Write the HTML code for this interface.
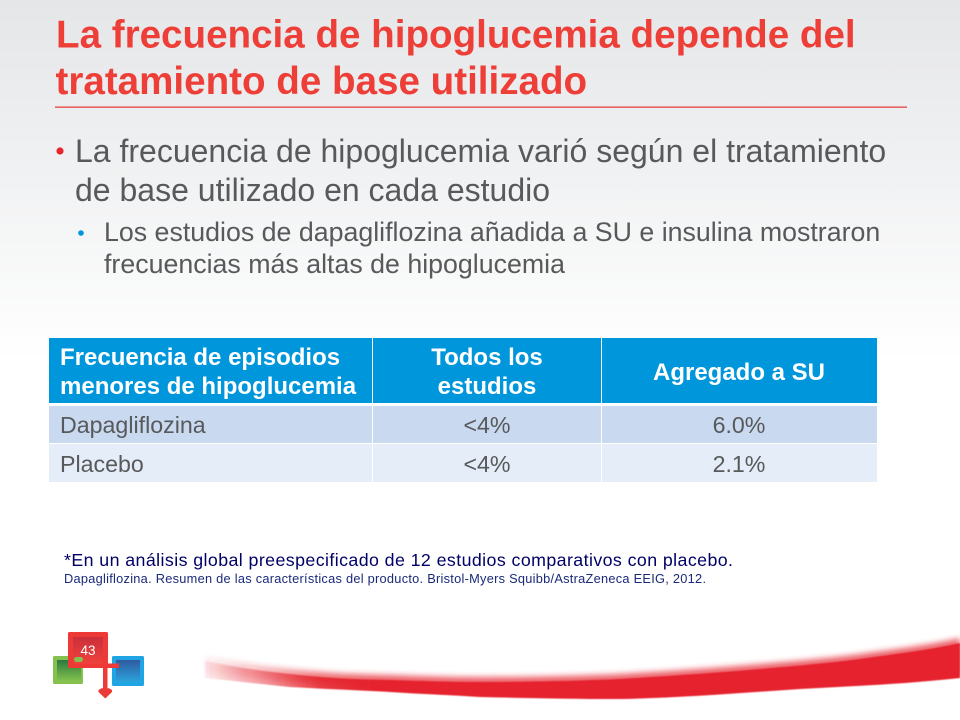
<!DOCTYPE html>
<html lang="es">
<head>
<meta charset="utf-8">
<title>La frecuencia de hipoglucemia</title>
<style>
html,body{margin:0;padding:0;background:#fff}
svg{display:block}
text{font-family:"Liberation Sans",Arial,sans-serif}
.t{font-weight:bold;font-size:38.6px;fill:#ee3e38}
.b1{font-size:32px;fill:#58595b}
.b2{font-size:26.75px;fill:#58595b}
.h{font-weight:bold;font-size:24px;fill:#fff}
.c{font-size:23.2px;fill:#58595b}
</style>
</head>
<body>
<svg xmlns="http://www.w3.org/2000/svg" width="960" height="720" viewBox="0 0 960 720">
<defs>
<linearGradient id="bg" x1="0" y1="0" x2="0" y2="1"><stop offset="0" stop-color="#e5e6e8"/><stop offset="0.25" stop-color="#f1f2f3"/><stop offset="0.5" stop-color="#ffffff"/></linearGradient>
<linearGradient id="fade" gradientUnits="userSpaceOnUse" x1="205" y1="0" x2="960" y2="0"><stop offset="0" stop-color="#e5242d" stop-opacity="0.08"/><stop offset="0.09" stop-color="#e5242d" stop-opacity="0.5"/><stop offset="0.15" stop-color="#e5242d" stop-opacity="0.88"/><stop offset="0.22" stop-color="#e5242d"/><stop offset="1" stop-color="#e5242d"/></linearGradient>
<linearGradient id="rg" x1="0" y1="0" x2="0" y2="1"><stop offset="0" stop-color="#c9303a"/><stop offset="1" stop-color="#f0413c"/></linearGradient>
<linearGradient id="gg" x1="0" y1="0" x2="0" y2="1"><stop offset="0" stop-color="#2a7a3f"/><stop offset="1" stop-color="#7fbf4d"/></linearGradient>
<linearGradient id="bb" x1="0" y1="0" x2="0" y2="1"><stop offset="0" stop-color="#2f5ba0"/><stop offset="1" stop-color="#2ba4dc"/></linearGradient>
<filter id="blur3" x="-5%" y="-50%" width="110%" height="200%"><feGaussianBlur stdDeviation="3"/></filter>
<filter id="blur1" x="-5%" y="-50%" width="110%" height="200%"><feGaussianBlur stdDeviation="0.6"/></filter>
</defs>
<rect width="960" height="720" fill="url(#bg)"/>

<text class="t" x="56" y="47.5">La frecuencia de hipoglucemia depende del</text>
<text class="t" x="55.5" y="94">tratamiento de base utilizado</text>
<rect x="55" y="106.5" width="852" height="1.3" fill="#e8403f"/>

<circle cx="60" cy="151" r="3.6" fill="#e8242c"/>
<text class="b1" x="75" y="162">La frecuencia de hipoglucemia varió según el tratamiento</text>
<text class="b1" x="75" y="201">de base utilizado en cada estudio</text>
<circle cx="81" cy="233" r="2.8" fill="#0096db"/>
<text class="b2" x="104" y="241">Los estudios de dapagliflozina añadida a SU e insulina mostraron</text>
<text class="b2" x="104" y="273">frecuencias más altas de hipoglucemia</text>

<g>
<rect x="49" y="338" width="828" height="65" fill="#0096db"/>
<rect x="49" y="406" width="828" height="37" fill="#c8d9f0"/>
<rect x="49" y="444" width="828" height="38" fill="#e5edf8"/>
<rect x="372" y="338" width="1" height="144" fill="#fff"/>
<rect x="601" y="338" width="1" height="144" fill="#fff"/>
<text class="h" x="60" y="365">Frecuencia de episodios</text>
<text class="h" x="60" y="394">menores de hipoglucemia</text>
<text class="h" x="487" y="365" text-anchor="middle">Todos los</text>
<text class="h" x="487" y="394" text-anchor="middle">estudios</text>
<text class="h" x="739" y="380" text-anchor="middle">Agregado a SU</text>
<text class="c" x="60" y="433">Dapagliflozina</text>
<text class="c" x="487" y="433" text-anchor="middle">&lt;4%</text>
<text class="c" x="739" y="433" text-anchor="middle">6.0%</text>
<text class="c" x="60" y="472">Placebo</text>
<text class="c" x="487" y="472" text-anchor="middle">&lt;4%</text>
<text class="c" x="739" y="472" text-anchor="middle">2.1%</text>
</g>

<text x="64" y="566" font-size="17.8" fill="#000066" textLength="669" lengthAdjust="spacing">*En un análisis global preespecificado de 12 estudios comparativos con placebo.</text>
<text x="64" y="583" font-size="12.8" fill="#1a2a7a" textLength="642" lengthAdjust="spacing">Dapagliflozina.  Resumen de las características del producto.  Bristol-Myers Squibb/AstraZeneca EEIG, 2012.</text>

<g>
<rect x="53" y="656" width="30" height="28" rx="1.5" fill="#84c14f"/>
<rect x="57" y="660" width="24" height="20" fill="url(#gg)"/>
<rect x="112" y="656" width="32" height="30" rx="1.5" fill="#1fa5e3"/>
<rect x="116" y="660" width="24" height="22" fill="url(#bb)"/>
<rect x="68" y="632" width="40" height="36" rx="1.5" fill="#ee3a37"/>
<rect x="73" y="637" width="30" height="27" fill="url(#rg)"/>
<rect x="74" y="657" width="9" height="5" rx="2.5" fill="#84c14f"/>
<rect x="106" y="663.5" width="13" height="4.5" fill="#ee3a37"/>
<rect x="103" y="664" width="4.5" height="26" fill="#ee3a37"/>
<path d="M98.5 690 L102 688 L105.3 690 L108.5 688 L112 690 L112 692 L105.3 698.5 L98.5 692 Z" fill="#ee3a37"/>
<text x="88" y="655" text-anchor="middle" font-size="13.5" fill="#fff">43</text>
</g>

<g>
<path transform="translate(0,-5)" d="M205 661 C235 667 260 671 290 674 C325 678 355 679.5 390 680 C420 681 450 682 480 682 C530 682 575 681 620 679 C670 676 715 673 760 669 C795 666 830 663 860 659 C895 654 930 650 960 643 L960 678 C905 684 855 686 800 689 C740 693 680 698 620 699 C570 699 525 698 480 697 C450 695 420 694 390 692 C355 690 325 689 290 687 C260 684 235 681 205 678 Z" fill="url(#fade)" opacity="0.7" filter="url(#blur3)"/>
<path d="M205 661 C235 667 260 671 290 674 C325 678 355 679.5 390 680 C420 681 450 682 480 682 C530 682 575 681 620 679 C670 676 715 673 760 669 C795 666 830 663 860 659 C895 654 930 650 960 643 L960 678 C905 684 855 686 800 689 C740 693 680 698 620 699 C570 699 525 698 480 697 C450 695 420 694 390 692 C355 690 325 689 290 687 C260 684 235 681 205 678 Z" fill="url(#fade)" filter="url(#blur1)"/>
</g>
</svg>
</body>
</html>
